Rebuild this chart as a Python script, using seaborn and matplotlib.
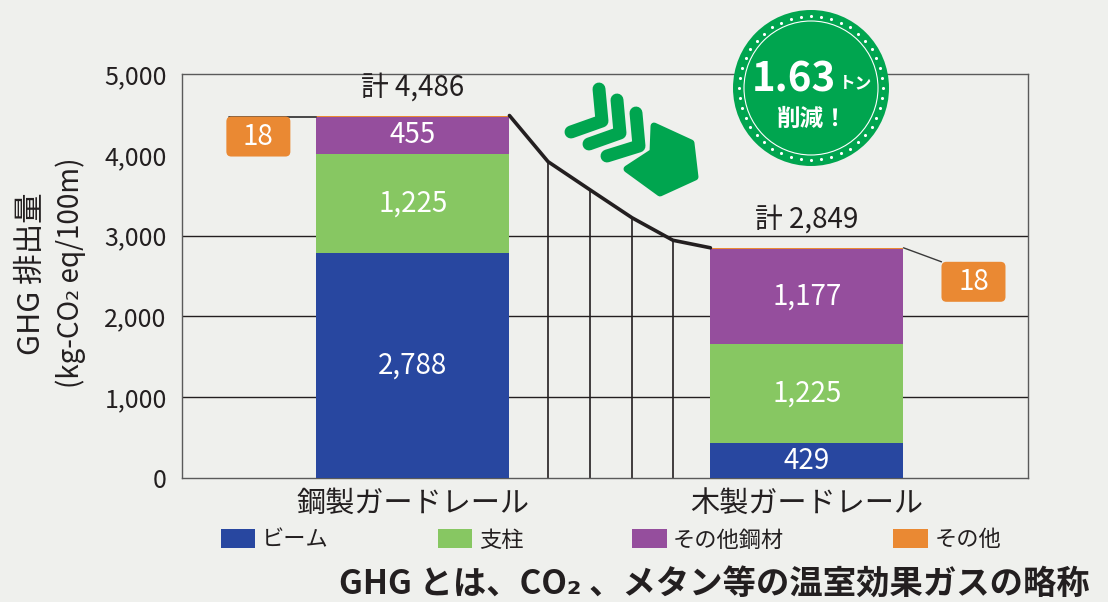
import numpy as np
import pandas as pd
import matplotlib
matplotlib.use('Agg')
import matplotlib.pyplot as plt
from matplotlib.patches import Circle, FancyBboxPatch, Polygon, Patch
import seaborn as sns

# data
categories = ['鋼製ガードレール', '木製ガードレール']
beam = [2788, 429]
post = [1225, 1225]
other_steel = [455, 1177]
other = [18, 18]
totals = [4486, 2849]
series_names = ['ビーム', '支柱', 'その他鋼材', 'その他']
yticks = [0, 1000, 2000, 3000, 4000, 5000]
gridlines = [1000, 2000, 3000]
# connector line between the two bar tops
curve_vals = [4486, 3915, 3568, 3221, 2942, 2849]
reduction = '1.63'

colors = ['#2847a0', '#87c762', '#954e9d', '#ea8933']
green = '#00a54f'
bg = '#eff0ed'
ink = '#231f20'
FW, FH = 1108, 602

sns.set_theme(style='white')
plt.rcParams['font.family'] = ['Noto Sans CJK JP', 'DejaVu Sans']

df = pd.DataFrame({'cat': categories, 'beam': beam, 'post': post,
                   'other_steel': other_steel, 'other': other})
layers = ['beam', 'post', 'other_steel', 'other']
cum = df[layers].cumsum(axis=1)

fig = plt.figure(figsize=(FW / 100, FH / 100), dpi=100, facecolor=bg)
ax = fig.add_axes([182 / FW, 1 - 478 / FH, (1028 - 182) / FW, (478 - 74) / FH])
ax.set_facecolor(bg)

W = 0.49
# stacked bars: draw cumulative heights from the top layer down
for name, col in reversed(list(zip(layers, colors))):
    sns.barplot(x=df['cat'], y=cum[name], color=col, width=W, ax=ax,
                saturation=1, linewidth=0, zorder=3)

for g in gridlines:
    ax.axhline(g, color=ink, lw=1, zorder=1)

# segment labels
for i in range(len(categories)):
    for name in layers[:3]:
        v = df[name][i]
        ax.text(i, cum[name][i] - v / 2, f'{v:,}', ha='center', va='center',
                color='white', fontsize=20, zorder=5)
    ax.annotate(f'計 {totals[i]:,}', (i, totals[i]), xytext=(0, 28),
                textcoords='offset pixels', ha='center', va='center',
                fontsize=20, color=ink)

# connector curve + vertical lines
curve_x = [W / 2, 0.343, 0.449, 0.556, 0.660, 1 - W / 2]
ax.vlines(curve_x[1:-1], 0, curve_vals[1:-1], colors=ink, lw=1.2, zorder=2)
ax.plot(curve_x, curve_vals, color=ink, lw=2.6, zorder=4,
        solid_joinstyle='round', solid_capstyle='round')

ax.set_xlim(-0.586, 1.561)
ax.set_ylim(0, 5000)
ax.set_yticks(yticks)
ax.set_yticklabels([f'{v:,}' for v in yticks])
ax.tick_params(axis='y', length=0, pad=11, labelsize=18, labelcolor=ink)
ax.tick_params(axis='x', length=0, pad=8, labelsize=21, labelcolor=ink)
ax.set_xlabel('')
ax.set_ylabel('')
for s in ax.spines.values():
    s.set_color('#5a5a5a')
    s.set_linewidth(1)

fig.text(32 / FW, 1 - 274 / FH, 'GHG 排出量', rotation=90,
         ha='center', va='center', fontsize=22, color=ink)
fig.text(71 / FW, 1 - 273 / FH, '(kg-CO₂ eq/100m)', rotation=90,
         ha='center', va='center', fontsize=20, color=ink)

# overlay in pixel coordinates for the decorations
ov = fig.add_axes([0, 0, 1, 1])
ov.set_xlim(0, FW)
ov.set_ylim(FH, 0)
ov.axis('off')
ov.patch.set_alpha(0)


def to_px(x, y):
    dx, dy = ax.transData.transform((x, y))
    return dx, FH - dy


def orange_box(cx, cy, label):
    ov.add_patch(FancyBboxPatch((cx - 32, cy - 20), 64, 40,
                                boxstyle='round,pad=0,rounding_size=5',
                                fc=colors[3], ec='none', zorder=5))
    ov.text(cx, cy, label, ha='center', va='center', color='white',
            fontsize=20, zorder=6)


x0, y0 = to_px(-W / 2, totals[0])
ov.plot([x0 - 87, x0], [y0 + 1, y0 + 1], color='#3a3a3a', lw=1.3, zorder=4)
orange_box(x0 - 58, y0 + 21, str(other[0]))

x1, y1 = to_px(1 + W / 2, totals[1])
ov.plot([x1, x1 + 38], [y1, y1 + 14], color='#3a3a3a', lw=1, zorder=4)
orange_box(x1 + 70, y1 + 34, str(other[1]))

# chevrons
for pts in [[(599, 89), (602, 121), (571, 132)],
            [(617, 100), (620, 133), (589, 144)],
            [(636, 113), (639, 146), (607, 156)]]:
    xs, ys = zip(*pts)
    ov.plot(xs, ys, color=green, lw=9.3, solid_capstyle='round',
            solid_joinstyle='round')
ov.add_patch(Polygon([(654, 126), (691, 143), (695, 177), (660, 193),
                      (627, 169), (653, 152)], closed=True, fc=green,
                     ec=green, lw=5, joinstyle='round'))

# badge
bc = (811, 88)
ov.add_patch(Circle(bc, 78, fc=green, ec='none', zorder=7))
ov.add_patch(Circle(bc, 67, fc='none', ec='white', lw=0.8, zorder=8))
ang = np.linspace(0, 2 * np.pi, 45)[:-1]
ov.scatter(bc[0] + 72 * np.cos(ang), bc[1] + 72 * np.sin(ang), s=5,
           color='white', zorder=8, linewidths=0)
ov.text(836, 80, reduction, ha='right', va='center', color='white',
        fontsize=29, fontweight='bold', zorder=9)
ov.text(839, 83, 'トン', ha='left', va='center', color='white',
        fontsize=12, fontweight='bold', zorder=9)
ov.text(812, 119, '削減！', ha='center', va='center', color='white',
        fontsize=17, fontweight='bold', zorder=9)

handles = [Patch(facecolor=c, edgecolor='none', label=n)
           for c, n in zip(colors, series_names)]
fig.legend(handles=handles, loc='center', bbox_to_anchor=(611 / FW, 1 - 540 / FH),
           ncol=4, frameon=False, fontsize=16, handlelength=1.55,
           handleheight=0.95, columnspacing=4.9, handletextpad=0.3,
           labelcolor=ink)

fig.text(1090 / FW, 1 - 584 / FH, 'GHG とは、CO₂ 、メタン等の温室効果ガスの略称',
         ha='right', va='center', fontsize=24, fontweight='bold', color=ink)

fig.savefig('out.png', dpi=100, facecolor=bg)
